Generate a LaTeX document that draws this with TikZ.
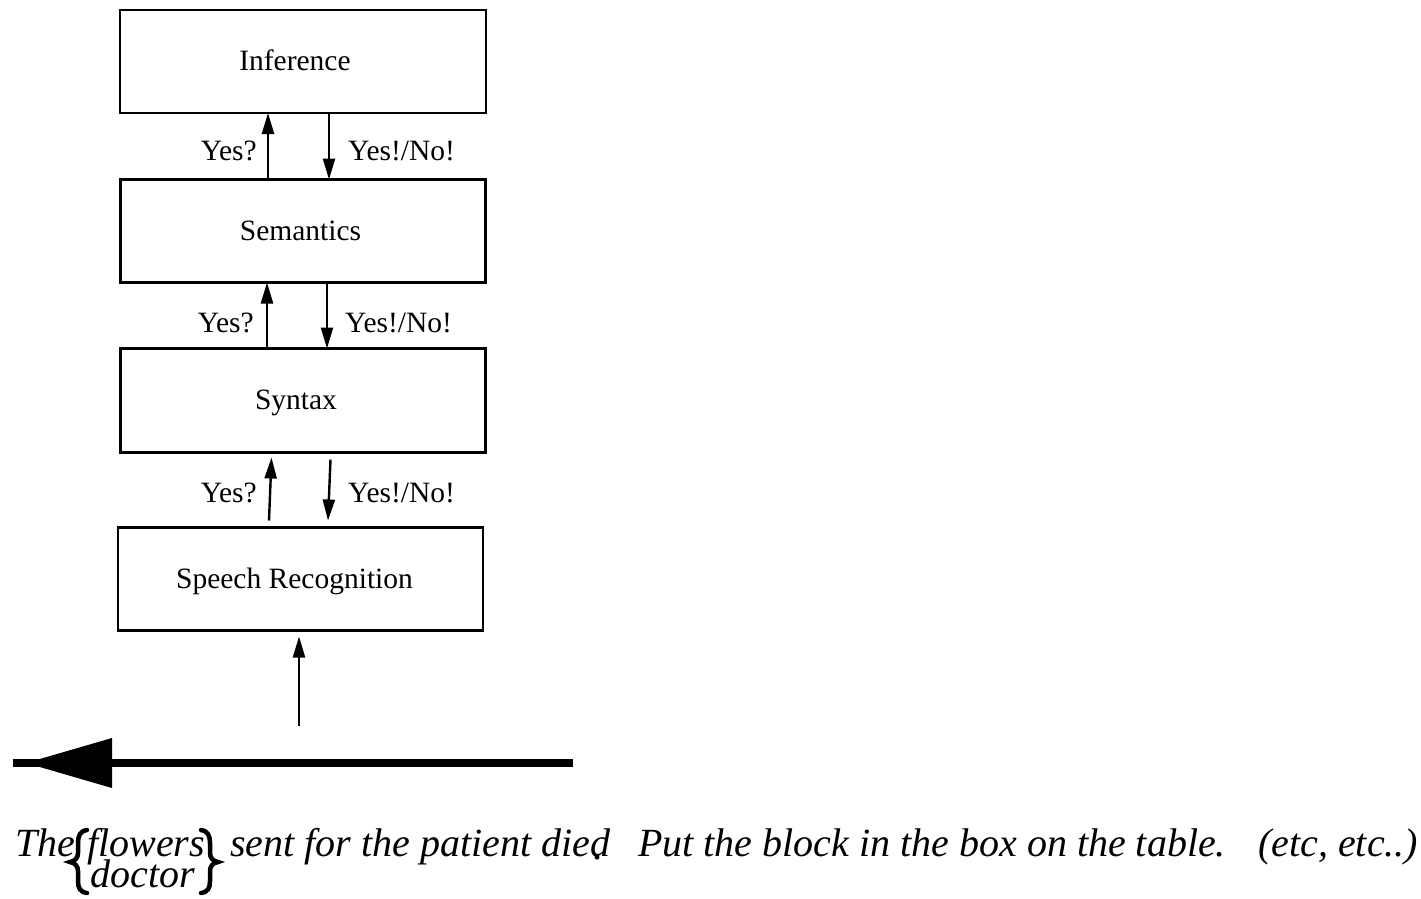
\documentclass[tikz,border=0pt]{standalone}
\usepackage{fontspec}
\setmainfont{Liberation Serif}
\usetikzlibrary{arrows.meta}
\begin{document}
\begin{tikzpicture}[x=1pt,y=-1pt,
  box/.style={draw,line width=2.6pt,minimum width=365pt,minimum height=103pt,inner sep=0pt,outer sep=0pt},
  lbl/.style={font=\fontsize{29.5}{35}\selectfont,inner sep=0pt},
  arr/.style={line width=2.4pt,-{Triangle[length=21pt,width=12pt]}},
  itx/.style={font=\fontsize{40}{48}\selectfont\itshape,inner sep=0pt},
  brace/.style={line width=4.5pt,line cap=round},
]
\useasboundingbox (0,0) rectangle (1421,898);
% boxes
\node[box,minimum width=366pt] (inf) at (303,61.5) {};
\node[box] (sem) at (303,231) {};
\node[box,minimum height=104pt] (syn) at (303,400.5) {};
\node[box] (spr) at (300.5,579) {};
% box labels
\node[lbl,anchor=base] (infL) at (295,70) {Inference};
\node[lbl,anchor=base] (semL) at (300.5,240) {Semantics};
\node[lbl,anchor=base] (synL) at (296,409) {Syntax};
\node[lbl,anchor=base] (sprL) at (294.5,588) {Speech Recognition};
% arrows between boxes
\draw[arr] ([xshift=-35pt]sem.north) -- ([xshift=-35pt]inf.south);
\draw[arr] ([xshift=26pt]inf.south) -- ([xshift=26pt]sem.north);
\draw[arr] ([xshift=-36pt]syn.north) -- ([xshift=-36pt]sem.south);
\draw[arr] ([xshift=24pt]sem.south) -- ([xshift=24pt]syn.north);
\draw[arr] ([xshift=-31.5pt,yshift=7pt]spr.north) -- ([xshift=-31.5pt,yshift=-5pt]syn.south);
\draw[arr] ([xshift=27.5pt,yshift=-7pt]syn.south) -- ([xshift=27.5pt,yshift=7pt]spr.north);
% arrow labels
\node[lbl,anchor=base east] (y1) at (257,160) {Yes?};
\node[lbl,anchor=base west] (n1) at (348,160) {Yes!/No!};
\node[lbl,anchor=base east] (y2) at (254,332) {Yes?};
\node[lbl,anchor=base west] (n2) at (345,332) {Yes!/No!};
\node[lbl,anchor=base east] (y3) at (257,502) {Yes?};
\node[lbl,anchor=base west] (n3) at (348,502) {Yes!/No!};
% input arrow
\coordinate (src) at (299,726);
\draw[arr] (src) -- ([xshift=-1.5pt,yshift=-6pt]spr.south);
% thick time arrow
\coordinate (tR) at (573,763);
\coordinate (tL) at (13,763);
\coordinate (tTip) at (26,763);
\draw[line width=8pt] (tR) -- (tL);
\fill (tTip) -- ++(86,-25) -- ++(0,50) -- cycle;
% sentences
\node[itx,anchor=base west] (the) at (15,856) {The};
\node[itx,anchor=base] (flw) at (146,856) {flowers};
\node[itx,anchor=base] (doc) at (143,887) {doctor};
\draw[brace] (87,830) .. controls (80,831) and (78,836) .. (78,843) -- (78,853)
  .. controls (78,858) and (75,861) .. (70,862)
  .. controls (75,863) and (78,866) .. (78,871) -- (78,881)
  .. controls (78,888) and (80,892) .. (87,893);
\draw[brace] (201,830) .. controls (208,831) and (210,836) .. (210,843) -- (210,853)
  .. controls (210,858) and (213,861) .. (218,862)
  .. controls (213,863) and (210,866) .. (210,871) -- (210,881)
  .. controls (210,888) and (208,892) .. (201,893);
\node[itx,anchor=base west] (snt) at (230,856) {sent for the patient died};
\node[itx,anchor=base west] (dot) at (593,859) {.};
\node[itx,anchor=base west] (put) at (638,856) {Put the block in the box on the table.};
\node[itx,anchor=base west] (etc) at (1258,856) {(etc, etc..)};
\end{tikzpicture}
\end{document}
